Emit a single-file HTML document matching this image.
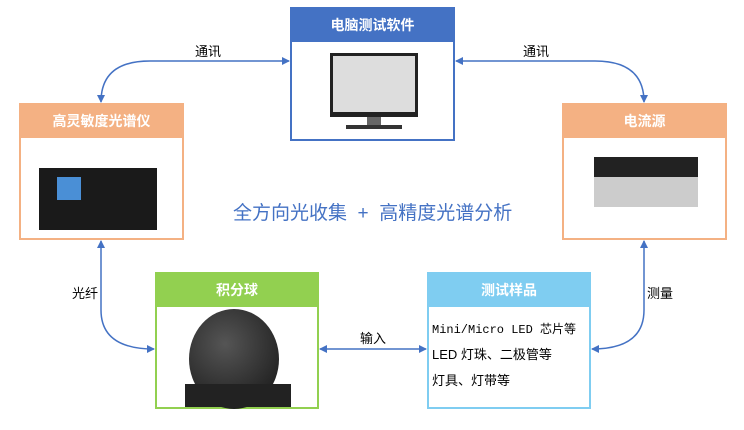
<!DOCTYPE html>
<html><head><meta charset="utf-8"><style>
body{margin:0;width:744px;height:430px;background:#fff;font-family:"Liberation Sans","Noto Sans CJK SC",sans-serif;position:relative;overflow:hidden}
.b{position:absolute;box-sizing:border-box;border:2px solid}
.h{height:33px;color:#fff;font-weight:bold;font-size:14px;text-align:center;line-height:33px}
.t{position:absolute;font-size:13px;color:#000}
svg.c{position:absolute;left:0;top:0;z-index:5}
</style></head><body>
<div class="b" style="left:290px;top:7px;width:165px;height:134px;border-color:#4472c4"><div class="h" style="background:#4472c4">电脑测试软件</div>
<div style="position:absolute;left:38px;top:44px;width:88px;height:64px;background:#222"><div style="margin:3px;height:56px;background:#ddd"></div></div>
<div style="position:absolute;left:75px;top:108px;width:14px;height:8px;background:#666"></div>
<div style="position:absolute;left:54px;top:116px;width:56px;height:4px;background:#333"></div></div>
<div class="b" style="left:19px;top:103px;width:165px;height:137px;border-color:#f4b183"><div class="h" style="background:#f4b183">高灵敏度光谱仪</div>
<div style="position:absolute;left:18px;top:63px;width:118px;height:62px;background:#1a1a1a"><div style="position:absolute;left:18px;top:9px;width:24px;height:23px;background:#4a8fd6"></div></div></div>
<div class="b" style="left:562px;top:103px;width:165px;height:137px;border-color:#f4b183"><div class="h" style="background:#f4b183">电流源</div>
<div style="position:absolute;left:30px;top:52px;width:104px;height:50px;background:#ccc"><div style="height:20px;background:#222"></div></div></div>
<div class="b" style="left:155px;top:272px;width:164px;height:137px;border-color:#92d050"><div class="h" style="background:#92d050">积分球</div>
<div style="position:absolute;left:32px;top:35px;width:90px;height:100px;border-radius:50%;background:radial-gradient(circle at 40% 35%,#555,#111)"></div>
<div style="position:absolute;left:28px;top:110px;width:106px;height:23px;background:#222"></div></div>
<div class="b" style="left:427px;top:272px;width:164px;height:137px;border-color:#7fcdf1"><div class="h" style="background:#7fcdf1">测试样品</div>
<div class="t" style="left:3px;top:46px;font-family:'Liberation Mono','Noto Sans CJK SC',monospace;font-size:12px">Mini/Micro LED 芯片等</div>
<div class="t" style="left:3px;top:70px">LED 灯珠、二极管等</div>
<div class="t" style="left:3px;top:96px">灯具、灯带等</div></div>
<svg class="c" width="744" height="430">
<defs><marker id="a" markerWidth="8" markerHeight="8" refX="7" refY="4" orient="auto-start-reverse" markerUnits="userSpaceOnUse"><path d="M0,0L8,4L0,8z" fill="#4472c4"/></marker></defs>
<g fill="none" stroke="#4472c4" stroke-width="1.5">
<path d="M289,61 L150,61 Q101,61 101,102" marker-start="url(#a)" marker-end="url(#a)"/>
<path d="M456,61 L595,61 Q644,61 644,102" marker-start="url(#a)" marker-end="url(#a)"/>
<path d="M101,241 L101,310 Q101,349 154,349" marker-start="url(#a)" marker-end="url(#a)"/>
<path d="M644,241 L644,310 Q644,349 592,349" marker-start="url(#a)" marker-end="url(#a)"/>
<path d="M320,349 L426,349" marker-start="url(#a)" marker-end="url(#a)"/>
</g></svg>
<div class="t" style="left:195px;top:41px">通讯</div>
<div class="t" style="left:523px;top:41px">通讯</div>
<div class="t" style="left:72px;top:283px">光纤</div>
<div class="t" style="left:647px;top:283px">测量</div>
<div class="t" style="left:360px;top:328px">输入</div>
<div style="position:absolute;left:233px;top:198px;font-size:19px;color:#4472c4;white-space:pre">全方向光收集  +  高精度光谱分析</div>
</body></html>
